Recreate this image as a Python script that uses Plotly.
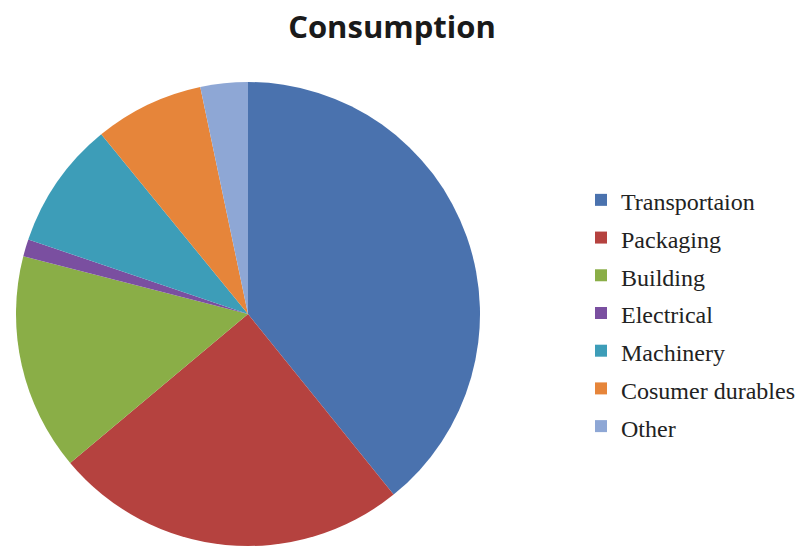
import plotly.graph_objects as go

categories = ["Transportaion", "Packaging", "Building", "Electrical",
              "Machinery", "Cosumer durables", "Other"]
values = [39.2, 24.7, 15.1, 1.2, 8.9, 7.6, 3.3]
colors = ["#4A72AE", "#B5423F", "#8AAE47", "#7A4FA0",
          "#3D9DB8", "#E6853A", "#8EA7D5"]

# the page body adds an 8px margin, so the figure is 8px smaller each way
OFF = 8
W, H = 808 - OFF, 548 - OFF
cx, cy, r = 248 - OFF, 314 - OFF, 232  # pixel centre / radius of the pie

legend_labels = [f"<span style='font-size:24px'>{c}</span>" for c in categories]

fig = go.Figure(go.Pie(
    labels=legend_labels,
    values=values,
    sort=False,
    direction="clockwise",
    rotation=0,
    textinfo="none",
    hoverinfo="label+value",
    marker=dict(colors=colors, line=dict(width=0)),
    domain=dict(x=[(cx - r) / W, (cx + r) / W],
                y=[(H - cy - r) / H, (H - cy + r) / H]),
))

fig.update_layout(
    width=W, height=H,
    margin=dict(l=0, r=0, t=0, b=0),
    paper_bgcolor="white",
    plot_bgcolor="white",
    title=dict(text="<b>Consumption</b>", x=(392 - OFF) / W, xanchor="center",
               y=1 - (27 - OFF) / H, yanchor="middle", yref="container",
               font=dict(family="Open Sans", size=31, color="#1a1a1a")),
    legend=dict(x=(581 - OFF) / W, xanchor="left",
                y=(H - (176 - OFF)) / H, yanchor="top",
                font=dict(family="Liberation Serif", size=26.7, color="#222"),
                bgcolor="rgba(0,0,0,0)", traceorder="normal"),
    showlegend=True,
)

fig.write_html("out.html")
